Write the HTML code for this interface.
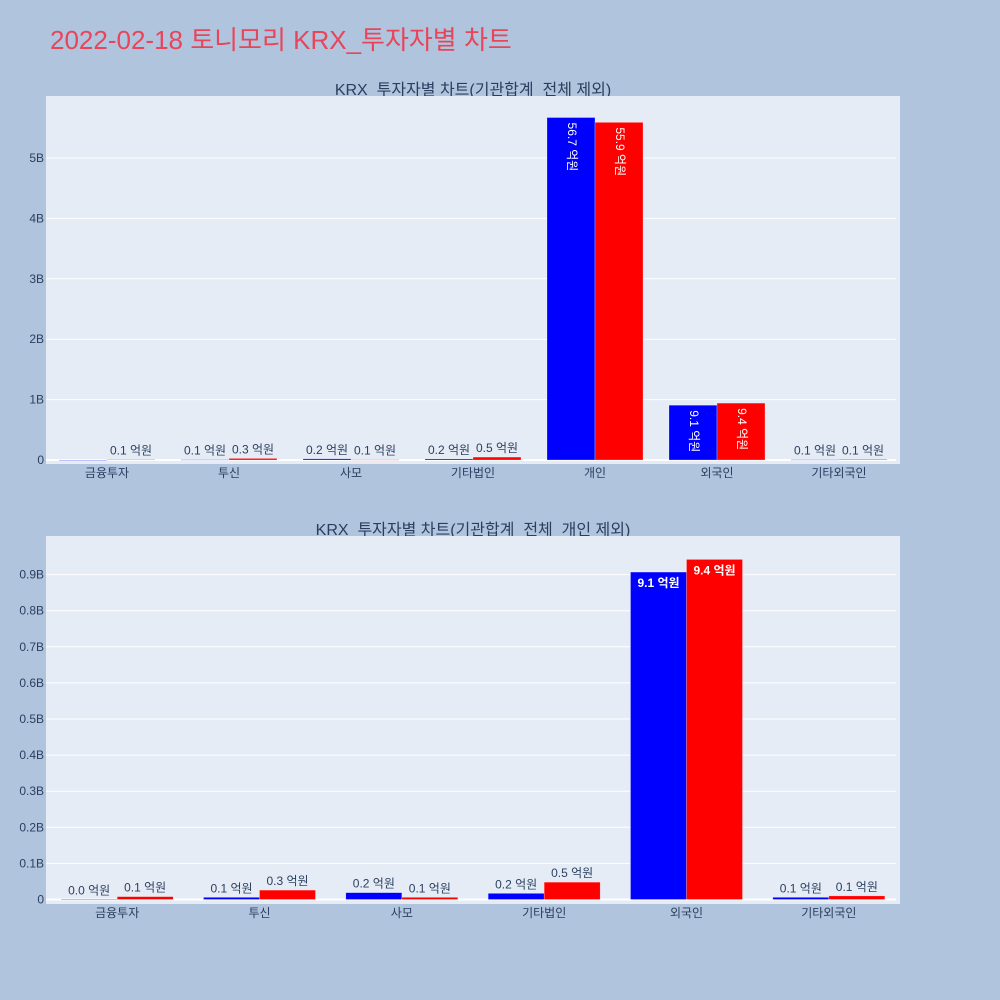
<!DOCTYPE html>
<html><head><meta charset="utf-8"><style>
body{margin:0;background:#b0c4de;}
svg{display:block;font-family:"Liberation Sans","Noto Sans CJK KR",sans-serif;}
</style></head><body>
<svg id="s" width="1000" height="1000">
<rect width="1000" height="1000" fill="#b0c4de"/>
<text x="50" y="49" font-size="26" fill="#e8455a">2022-02-18 토니모리 KRX_투자자별 차트</text>
<text x="473" y="95" font-size="16" fill="#2a3f5f" text-anchor="middle">KRX_투자자별 차트(기관합계_전체 제외)</text>
<text x="473" y="535" font-size="16" fill="#2a3f5f" text-anchor="middle">KRX_투자자별 차트(기관합계_전체_개인 제외)</text>
</svg>
<script>
const catsTop=["금융투자","투신","사모","기타법인","개인","외국인","기타외국인"];
const blueTop=[0.004,0.06,0.19,0.17,56.7,9.07,0.06];
const redTop=[0.08,0.26,0.06,0.48,55.9,9.42,0.1];
const ticksTop=[0,1,2,3,4,5];
const tickLabelsTop=["0","1B","2B","3B","4B","5B"];
const catsBot=["금융투자","투신","사모","기타법인","외국인","기타외국인"];
const blueBot=[0.004,0.06,0.19,0.17,9.07,0.06];
const redBot=[0.08,0.26,0.06,0.48,9.42,0.1];
const ticksBot=[0,0.1,0.2,0.3,0.4,0.5,0.6,0.7,0.8,0.9];
const tickLabelsBot=["0","0.1B","0.2B","0.3B","0.4B","0.5B","0.6B","0.7B","0.8B","0.9B"];
const NS="http://www.w3.org/2000/svg",svg=document.getElementById('s');
function el(t,a,p){const e=document.createElementNS(NS,t);for(const k in a)e.setAttribute(k,a[k]);(p||svg).appendChild(e);return e;}
function chart(o){
  const g=el('g',{});
  
  
  const r=el('rect',{x:o.x0,y:o.top,width:o.x1-o.x0,height:o.bot-o.top,fill:'#e5ecf6'},g);
  
  
  const y=v=>o.zero-v*o.scale; // v in billions
  o.ticks.forEach((t,i)=>{
    const gl=el('line',{x1:o.x0,x2:o.x1-4,y1:y(t),y2:y(t),stroke:'#fff','stroke-width':t==0?2:1},g);
    
    
    const tl=el('text',{x:o.x0-2,y:y(t)+4,'font-size':12,fill:'#2a3f5f','text-anchor':'end'},g);
    tl.textContent=o.tickLabels[i];
    
    
  });
  const n=o.cats.length,step=(o.x1-o.x0)/n;
  o.cats.forEach((c,i)=>{
    const cx=o.x0+step*(i+0.5);
    const cl=el('text',{x:cx,y:o.bot+13,'font-size':12,fill:'#2a3f5f','text-anchor':'middle'},g);
    cl.textContent=c;
    
    
    [[o.blue[i],'#0000ff',-1],[o.red[i],'#ff0000',0]].forEach(([v,col,off])=>{
      const bx=cx+off*o.bw, b=v/10, yt=y(b), h=o.zero-yt;
      const bar=el('rect',{x:bx,y:yt,width:o.bw,height:Math.max(h,0.5),fill:col,stroke:'rgba(255,255,255,0.5)','stroke-width':0.5},g);
      
      
      const label=v.toFixed(1)+' 억원';
      if(o.hideTiny&&v<0.01)return;
      const bxc=bx+o.bw/2;
      let t;
      if(h>40){
        if(o.rot){t=el('text',{x:bxc,y:yt+5,'font-size':12,fill:'#fff',transform:`rotate(90 ${bxc} ${yt+5})`,'dominant-baseline':'middle'},g);}
        else{t=el('text',{x:bxc,y:yt+15,'font-size':12,fill:'#fff','text-anchor':'middle','font-weight':'bold'},g);}
      }else{
        t=el('text',{x:bxc,y:yt-5,'font-size':12,fill:'#2a3f5f','text-anchor':'middle'},g);
      }
      t.textContent=label;
      
      
    });
  });
}
chart({name:'top-chart',x0:46,x1:900,top:96,bot:464,zero:460,scale:60.4,cats:catsTop,blue:blueTop,red:redTop,ticks:ticksTop,tickLabels:tickLabelsTop,bw:48,rot:true,hideTiny:true});
chart({name:'bottom-chart',x0:46,x1:900,top:536,bot:904,zero:899.5,scale:361,cats:catsBot,blue:blueBot,red:redBot,ticks:ticksBot,tickLabels:tickLabelsBot,bw:56,rot:false,hideTiny:false});
</script>
</body></html>
